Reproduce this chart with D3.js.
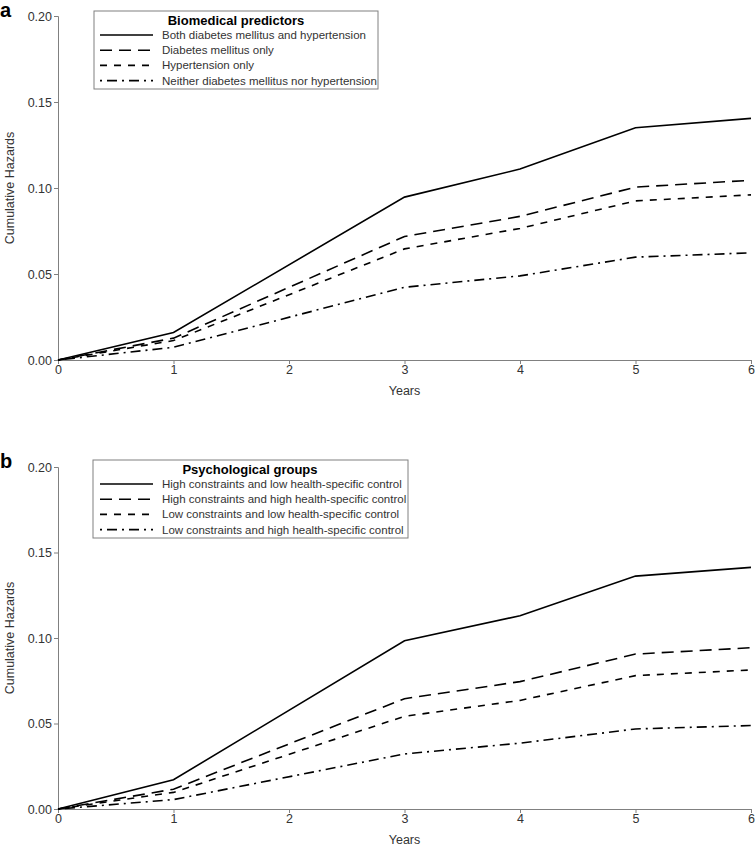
<!DOCTYPE html>
<html><head><meta charset="utf-8">
<script src="https://cdn.jsdelivr.net/npm/d3@7"></script>
<style>
html,body{margin:0;padding:0;background:#fff;}
svg{display:block;font-family:"Liberation Sans",Arial,sans-serif;}
</style></head>
<body>
<svg id="c" width="755" height="846"></svg>
<script>
const years = [0, 1, 3, 4, 5, 6];
const yTicks = [0, 0.05, 0.10, 0.15, 0.20];
const xTicks = [0, 1, 2, 3, 4, 5, 6];

const aTitle = "Biomedical predictors";
const aNames = ["Both diabetes mellitus and hypertension", "Diabetes mellitus only", "Hypertension only", "Neither diabetes mellitus nor hypertension"];
const aBoth    = [0, 0.0160, 0.0947, 0.1110, 0.1350, 0.1405];
const aDM      = [0, 0.0127, 0.0718, 0.0835, 0.1005, 0.1045];
const aHTN     = [0, 0.0113, 0.0646, 0.0765, 0.0925, 0.0960];
const aNeither = [0, 0.0074, 0.0423, 0.0489, 0.0598, 0.0623];

const bTitle = "Psychological groups";
const bNames = ["High constraints and low health-specific control", "High constraints and high health-specific control", "Low constraints and low health-specific control", "Low constraints and high health-specific control"];
const bHCLow  = [0, 0.0171, 0.0984, 0.1130, 0.1362, 0.1413];
const bHCHigh = [0, 0.0116, 0.0645, 0.0745, 0.0906, 0.0943];
const bLCLow  = [0, 0.0097, 0.0542, 0.0635, 0.0780, 0.0813];
const bLCHigh = [0, 0.0055, 0.0322, 0.0385, 0.0468, 0.0488];

const dashes = [null, "12,7", "7,7", "2,5,10,5"];

const svg = d3.select("#c");
const x = d3.scaleLinear().domain([0, 6]).range([58, 751]);

function panel(letter, top, bottom, series, names, title, legendBox) {
  const y = d3.scaleLinear().domain([0, 0.2]).range([bottom, top]);
  const g = svg.append("g");
  g.append("text").attr("x", 0).attr("y", top + 1).attr("font-size", 20).attr("font-weight", "bold").text(letter);

  const ya = g.append("g").attr("transform", `translate(${x(0)},0)`)
    .call(d3.axisLeft(y).tickValues(yTicks).tickFormat(d3.format(".2f")).tickSize(4).tickPadding(2));
  const xa = g.append("g").attr("transform", `translate(0,${y(0)})`)
    .call(d3.axisBottom(x).tickValues(xTicks).tickFormat(d3.format("d")).tickSize(4).tickPadding(1));
  [ya, xa].forEach(a => {
    a.select(".domain").attr("stroke", "#808080");
    a.selectAll(".tick line").attr("stroke", "#808080");
    a.selectAll(".tick text").attr("fill", "#333").attr("font-size", 12.5).attr("font-family", "Liberation Sans, Arial, sans-serif");
  });
  g.append("text").attr("x", x(3)).attr("y", bottom + 35).attr("text-anchor", "middle")
    .attr("font-size", 12.5).attr("fill", "#333").text("Years");
  g.append("text").attr("transform", `translate(14,${(top + bottom) / 2}) rotate(-90)`).attr("text-anchor", "middle")
    .attr("font-size", 12.5).attr("fill", "#333").text("Cumulative Hazards");

  const line = d3.line().x((d, i) => x(years[i])).y(d => y(d));
  series.forEach((s, k) => {
    g.append("path").datum(s).attr("d", line).attr("fill", "none").attr("stroke", "#000")
      .attr("stroke-width", 1.6).attr("stroke-dasharray", dashes[k]);
  });

  const lb = legendBox;
  const lg = g.append("g");
  lg.append("rect").attr("x", lb.x).attr("y", lb.y).attr("width", lb.w).attr("height", lb.h)
    .attr("fill", "#fff").attr("stroke", "#808080").attr("stroke-width", 1);
  lg.append("text").attr("x", lb.tx).attr("y", lb.y + 14).attr("text-anchor", "middle")
    .attr("font-size", 13).attr("font-weight", "bold").text(title);
  names.forEach((n, k) => {
    const ry = lb.y + 24 + k * 15.2;
    lg.append("line").attr("x1", 100).attr("x2", 153).attr("y1", ry).attr("y2", ry)
      .attr("stroke", "#000").attr("stroke-width", 1.6).attr("stroke-dasharray", dashes[k]);
    lg.append("text").attr("x", 162).attr("y", ry + 4).attr("font-size", 11.5).attr("fill", "#333").text(n);
  });
}

panel("a", 16, 360, [aBoth, aDM, aHTN, aNeither], aNames, aTitle, {x: 94, y: 11, w: 284, h: 78, tx: 236});
panel("b", 467, 809, [bHCLow, bHCHigh, bLCLow, bLCHigh], bNames, bTitle, {x: 93, y: 460, w: 315, h: 78, tx: 250});
</script>
</body></html>
